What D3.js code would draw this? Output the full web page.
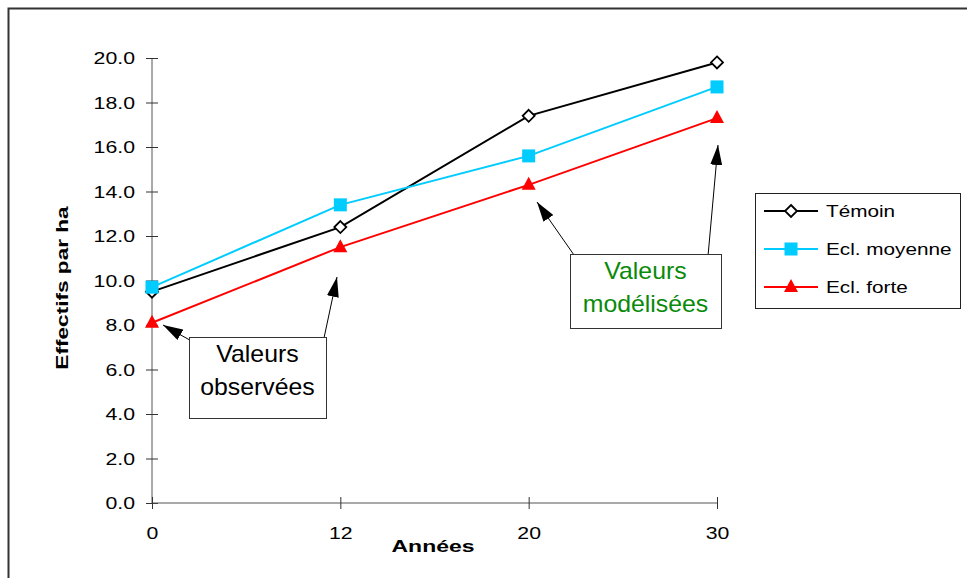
<!DOCTYPE html>
<html>
<head>
<meta charset="utf-8">
<script src="https://cdn.jsdelivr.net/npm/d3@7"></script>
<style>
  html, body { margin: 0; padding: 0; background: #fff; }
  svg { display: block; font-family: Arial, "Liberation Sans", sans-serif; }
</style>
</head>
<body>
<svg id="chart" width="967" height="578"></svg>
<script>
// Survey years (category axis)
const years = ["0", "12", "20", "30"];
// Stand density per hectare for each treatment
const temoin = [9.5, 12.4, 17.4, 19.8];
const eclMoyenne = [9.7, 13.4, 15.6, 18.7];
const eclForte = [8.1, 11.5, 14.3, 17.3];
const seriesNames = ["Témoin", "Ecl. moyenne", "Ecl. forte"];
const yTicks = [0, 2, 4, 6, 8, 10, 12, 14, 16, 18, 20];

const series = [
  { name: seriesNames[0], values: temoin, color: "#000000", marker: "diamond" },
  { name: seriesNames[1], values: eclMoyenne, color: "#00CCFF", marker: "square" },
  { name: seriesNames[2], values: eclForte, color: "#FF0000", marker: "triangle" }
];

const FONT = "Arial, 'Liberation Sans', sans-serif";
const svg = d3.select("#chart");

// Outer chart frame
svg.append("rect")
  .attr("x", 8.5).attr("y", 8.5)
  .attr("width", 1000).attr("height", 1000)
  .attr("fill", "none").attr("stroke", "#333").attr("stroke-width", 2);

const x = d3.scalePoint().domain(years).range([152, 717]);
const y = d3.scaleLinear().domain([0, 20]).range([503, 58]);

// Wide text: glyphs are drawn horizontally stretched
function wideText(parent, tx, ty, str, opts) {
  const o = Object.assign({ size: 16, sx: 1.3, anchor: "start", weight: "normal", fill: "#000", rotate: 0 }, opts);
  const g = parent.append("g")
    .attr("transform", `translate(${tx},${ty}) rotate(${o.rotate}) scale(${o.sx},1)`);
  return g.append("text")
    .attr("text-anchor", o.anchor)
    .attr("font-family", FONT)
    .attr("font-size", o.size)
    .attr("font-weight", o.weight)
    .attr("fill", o.fill)
    .text(str);
}

// Y axis
const yAxis = svg.append("g")
  .attr("transform", "translate(152,0)")
  .call(d3.axisLeft(y).tickValues(yTicks).tickFormat(d3.format(".1f")).tickSize(6).tickSizeOuter(0));
yAxis.select(".domain").attr("stroke", "#555").attr("d", `M0,${y(0)}V${y(20)}`);
yAxis.selectAll(".tick line").attr("stroke", "#333").attr("x2", 6).attr("x1", -6);
yAxis.selectAll(".tick text")
  .attr("x", 0).attr("dy", "0.35em")
  .attr("transform", "translate(-17,0) scale(1.33,1)")
  .attr("font-size", 16).attr("fill", "#000")
  .attr("font-family", FONT);

// X axis
const xAxis = svg.append("g")
  .attr("transform", `translate(0,${y(0)})`)
  .call(d3.axisBottom(x).tickSize(6).tickSizeOuter(0));
xAxis.select(".domain").attr("stroke", "#555").attr("d", `M152,0H717`);
xAxis.selectAll(".tick line").attr("stroke", "#333").attr("y1", -6).attr("y2", 6);
xAxis.selectAll(".tick text")
  .attr("y", 0).attr("dy", 0)
  .attr("transform", "translate(0,36) scale(1.33,1)")
  .attr("font-size", 16).attr("fill", "#000")
  .attr("font-family", FONT);

// Axis titles
wideText(svg, 433, 552, "Années", { size: 17, sx: 1.35, anchor: "middle", weight: "bold" });
wideText(svg, 68, 288, "Effectifs par ha", { size: 17, sx: 1.33, anchor: "middle", weight: "bold", rotate: -90 });

// Marker shapes
function drawMarker(g, type, color, cx, cy) {
  if (type === "diamond") {
    g.append("path")
      .attr("d", `M${cx},${cy - 6}L${cx + 6},${cy}L${cx},${cy + 6}L${cx - 6},${cy}Z`)
      .attr("fill", "#fff").attr("stroke", "#000").attr("stroke-width", 1.8);
  } else if (type === "square") {
    g.append("rect")
      .attr("x", cx - 6.5).attr("y", cy - 6.5).attr("width", 13).attr("height", 13)
      .attr("fill", color);
  } else {
    g.append("path")
      .attr("d", `M${cx},${cy - 8}L${cx + 7},${cy + 5}L${cx - 7},${cy + 5}Z`)
      .attr("fill", color);
  }
}

const line = d3.line().x((d, i) => x(years[i])).y(d => y(d));

series.forEach(s => {
  svg.append("path")
    .datum(s.values)
    .attr("d", line)
    .attr("fill", "none")
    .attr("stroke", s.color)
    .attr("stroke-width", 2);
});
series.forEach(s => {
  const g = svg.append("g");
  s.values.forEach((v, i) => drawMarker(g, s.marker, s.color, x(years[i]), y(v)));
});

// Legend
const legend = svg.append("g");
legend.append("rect")
  .attr("x", 755.5).attr("y", 193.5).attr("width", 205).attr("height", 115)
  .attr("fill", "#fff").attr("stroke", "#222").attr("stroke-width", 1);
series.forEach((s, i) => {
  const ly = 211 + i * 38;
  legend.append("line")
    .attr("x1", 764).attr("x2", 818).attr("y1", ly).attr("y2", ly)
    .attr("stroke", s.color).attr("stroke-width", 2);
  drawMarker(legend, s.marker, s.color, 791, ly);
  wideText(legend, 826, ly + 6, s.name, { size: 17, sx: 1.22 });
});

// Annotation callouts
svg.append("defs").append("marker")
  .attr("id", "arrowhead")
  .attr("viewBox", "0 0 20 12")
  .attr("refX", 20).attr("refY", 6)
  .attr("markerWidth", 20).attr("markerHeight", 12)
  .attr("markerUnits", "userSpaceOnUse")
  .attr("orient", "auto")
  .append("path").attr("d", "M0,0L20,6L0,12Z").attr("fill", "#000");

function callout(box, lines, color, arrows) {
  arrows.forEach(a => {
    svg.append("line")
      .attr("x1", a[0]).attr("y1", a[1]).attr("x2", a[2]).attr("y2", a[3])
      .attr("stroke", "#000").attr("stroke-width", 1)
      .attr("marker-end", "url(#arrowhead)");
  });
  svg.append("rect")
    .attr("x", box[0] + 0.5).attr("y", box[1] + 0.5)
    .attr("width", box[2]).attr("height", box[3])
    .attr("fill", "#fff").attr("stroke", "#333").attr("stroke-width", 1);
  lines.forEach((t, i) => {
    wideText(svg, box[0] + box[2] / 2, box[1] + 25 + i * 33, t,
      { size: 23, sx: 1.08, anchor: "middle", fill: color });
  });
}

callout([189, 337, 137, 81], ["Valeurs", "observées"], "#000",
  [[195, 343, 163, 325], [324, 338, 337, 277]]);
callout([570, 254, 151, 74], ["Valeurs", "modélisées"], "#0A8A0A",
  [[574, 255, 537, 202], [708, 256, 718, 145]]);
</script>
</body>
</html>
